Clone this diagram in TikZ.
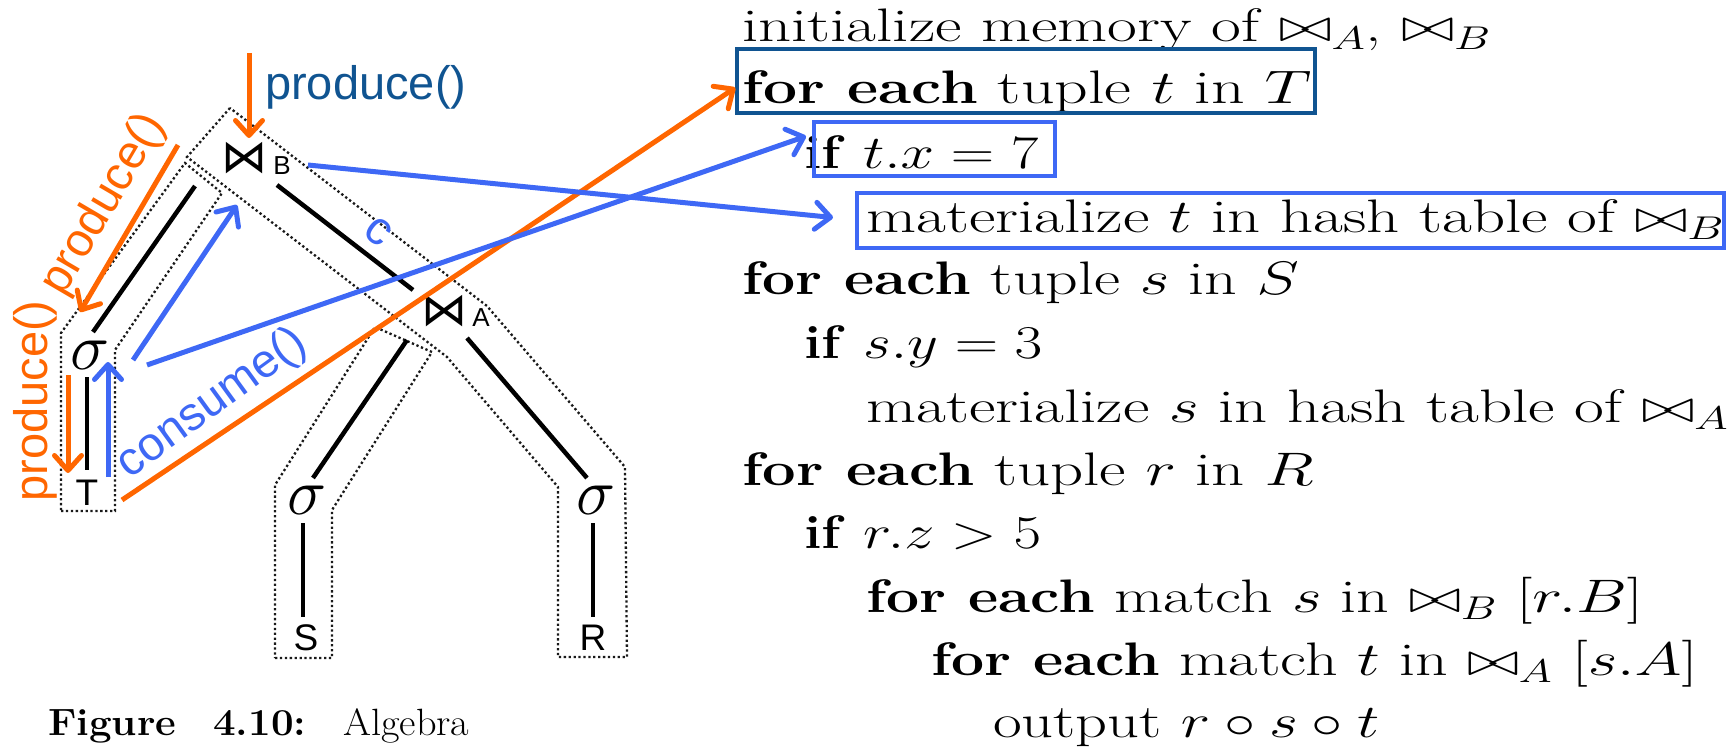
\RequirePackage{fix-cm}
\documentclass[tikz,border=0pt]{standalone}
\usepackage{fontspec}
\usepackage{graphicx}
\usetikzlibrary{arrows.meta,calc}
\newfontfamily\sansfnt{Liberation Sans}
\newfontfamily\symfnt{DejaVu Sans}
\definecolor{orng}{RGB}{255,102,0}
\definecolor{blu}{RGB}{62,104,245}
\definecolor{dblu}{RGB}{16,84,145}
\newcommand{\cdl}[2][1.38]{\fontsize{47}{54}\selectfont\scalebox{#1}[1]{#2}}
\newcommand{\kw}[1]{\scalebox{0.92}[1]{\textbf{#1}}}
\newcommand{\bt}{{\bowtie}}
\begin{document}
\begin{tikzpicture}[x=1pt,y=-1pt,
  dotline/.style={draw=black!90, line width=2.3pt, dash pattern=on 2.3pt off 2.6pt},
  edge/.style={draw=black, line width=4.5pt},
  oarr/.style={draw=orng, line width=5pt, -{Straight Barb[length=15pt,width=27pt,round]}},
  barr/.style={draw=blu, line width=5pt, -{Straight Barb[length=15pt,width=27pt,round]}},
  code/.style={anchor=base west, inner sep=0pt},
  tsym/.style={inner sep=0pt, font={\symfnt\fontsize{46}{46}\selectfont}},
  tlab/.style={inner sep=0pt, font={\sansfnt\fontsize{37}{37}\selectfont}},
  tsub/.style={inner sep=0pt, font={\sansfnt\fontsize{26}{26}\selectfont}},
  sig/.style={inner sep=0pt, font={\fontsize{66}{66}\selectfont}},
  lbl/.style={inner sep=0pt, font={\sansfnt\fontsize{47}{50}\selectfont}},
  hbox/.style={draw=blu, line width=4pt, inner sep=0pt},
  capt/.style={anchor=base west, inner sep=0pt, font={\fontsize{38}{42}\selectfont}}]
\useasboundingbox (0,0) rectangle (1736,749);

% pipeline outlines
\draw[dotline] (61,511) -- (115,511) -- (115,350) -- (222,193) -- (185,163) -- (61,333) -- cycle;
\draw[dotline] (275,658) -- (332,658) -- (332,510) -- (432,352) -- (375,327) -- (275,485) -- cycle;
\draw[dotline] (230,108) -- (187,157) -- (447,357) -- (558,487) -- (558,657) -- (627,657) -- (625,467) -- (487,306) -- cycle;

% tree nodes
\node[tsym] (jB) at (244,158) {⋈};
\node[tsub] (jBs) at (282,166) {B};
\node[tsym] (jA) at (444,311) {⋈};
\node[tsub] (jAs) at (481,318) {A};
\node[sig] (sT) at (90,355) {$\sigma$};
\node[tlab] (T) at (87,493) {T};
\node[sig] (sS) at (307,500) {$\sigma$};
\node[tlab] (S) at (306,638) {S};
\node[sig] (sR) at (596,500) {$\sigma$};
\node[tlab] (R) at (593,638) {R};

% tree edges
\draw[edge] ($(sT)+(3,-23)$) -- ($(jB)+(-49,28)$);
\draw[edge] ($(jB)+(33,27)$) -- ($(jA)+(-31,-21)$);
\draw[edge] ($(sT)+(-3,22)$) -- ($(T)+(0,-23)$);
\draw[edge] ($(jA)+(-37,29)$) -- ($(sS)+(6,-22)$);
\draw[edge] ($(jA)+(23,27)$) -- ($(sR)+(-9,-22)$);
\draw[edge] ($(sS)+(-4,23)$) -- ($(S)+(-3,-21)$);
\draw[edge] ($(sR)+(-3,23)$) -- ($(R)+(0,-21)$);

% code
\node[code] (c1) at (742,42) {\cdl{initialize memory of $\bt_A$, $\bt_B$}};
\node[code] (c2) at (742,104) {\cdl[1.40]{\kw{for each} tuple $t$ in $T$}};
\node[code] (c3) at (804,168) {\cdl[1.28]{\kw{if} $t.x = 7$}};
\node[code] (c4) at (866,232) {\cdl{materialize $t$ in hash table of $\bt_B$}};
\node[code] (c5) at (742,294) {\cdl[1.36]{\kw{for each} tuple $s$ in $S$}};
\node[code] (c6) at (804,358) {\cdl[1.28]{\kw{if} $s.y = 3$}};
\node[code] (c7) at (866,422) {\cdl{materialize $s$ in hash table of $\bt_A$}};
\node[code] (c8) at (742,485) {\cdl{\kw{for each} tuple $r$ in $R$}};
\node[code] (c9) at (804,548) {\cdl[1.28]{\kw{if} $r.z > 5$}};
\node[code] (c10) at (866,612) {\cdl[1.36]{\kw{for each} match $s$ in $\bt_B$ $[r.B]$}};
\node[code] (c11) at (931,675) {\cdl[1.36]{\kw{for each} match $t$ in $\bt_A$ $[s.A]$}};
\node[code] (c12) at (993,737) {\cdl[1.33]{output $r \circ s \circ t$}};

% highlight boxes
\node[draw=dblu, line width=3.5pt, inner sep=0pt, minimum width=578pt, minimum height=64pt] (b1) at (1026,81) {};
\node[hbox, minimum width=241pt, minimum height=54pt] (b2) at (934.5,149) {};
\node[hbox, minimum width=867pt, minimum height=55pt] (b3) at (1290.5,220.5) {};

% produce arrows (orange)
\coordinate (topin) at (249,53);
\draw[oarr] (topin) -- ($(jB)+(5,-20)$);
\node[lbl, text=dblu, anchor=base west] (plTop) at (265,100) {produce()};
\draw[oarr] ($(jB)+(-66,-13)$) -- ($(sT)+(-10,-43)$);
\node[lbl, text=orng, rotate=59.6] (plDiag) at (104,205) {produce()};
\draw[oarr] ($(sT)+(-22,20)$) -- ($(T)+(-19,-20)$);
\node[lbl, text=orng, rotate=90] (plVert) at (35,401) {produce()};
\draw[oarr] ($(T)+(35,7)$) -- ($(b1.north west)!0.6!(b1.south west)$);

% consume arrows (blue)
\draw[barr] ($(T)+(21,-16)$) -- ($(sT)+(18,7)$);
\draw[barr] ($(sT)+(43,5)$) -- ($(jB)+(-7,47)$);
\draw[barr] ($(sT)+(57,10)$) -- ($(b2.north west)!0.28!(b2.south west)+(-6,0)$);
\draw[barr] ($(jB)+(64,7)$) -- ($(b3.north west)!0.45!(b3.south west)+(-22,0)$);
\node[lbl, text=blu, rotate=36] (cons) at (212,404) {consume()};
\node[lbl, text=blu, rotate=-37] (cc) at (378,232) {c};

% caption
\node[capt] (f1) at (48,735) {\scalebox{1.06}[1]{\textbf{Figure}}};
\node[capt] (f2) at (213,735) {\scalebox{1.06}[1]{\textbf{4.10:}}};
\node[capt] (f3) at (343,735) {\scalebox{1.06}[1]{Algebra}};
\end{tikzpicture}
\end{document}
